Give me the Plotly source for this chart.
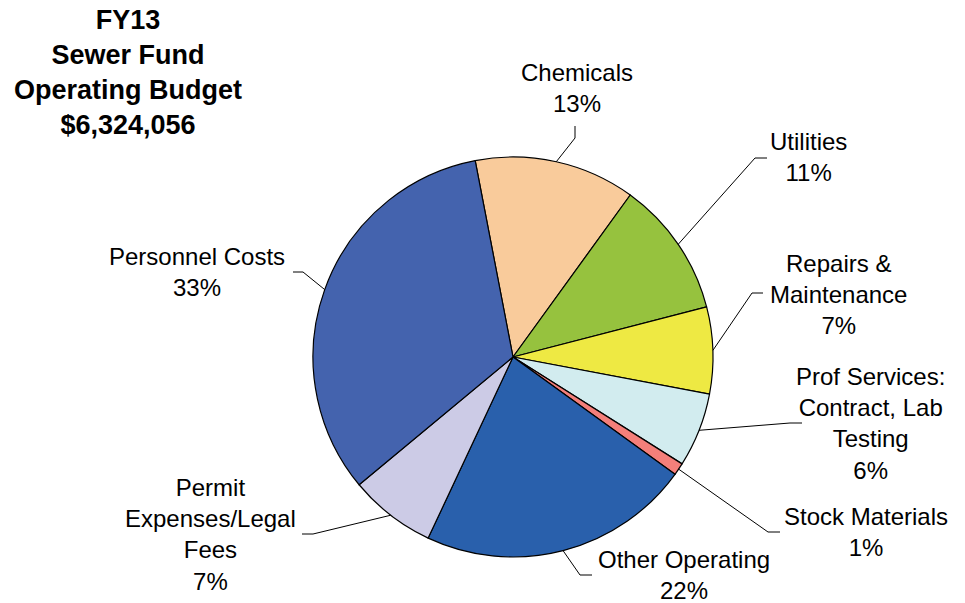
import math
import plotly.graph_objects as go

# FY13 Sewer Fund operating budget shares (percent)
categories = ["Chemicals", "Utilities", "Repairs & Maintenance",
              "Prof Services: Contract, Lab Testing", "Stock Materials",
              "Other Operating", "Permit Expenses/Legal Fees", "Personnel Costs"]
label_lines = ["Chemicals", "Utilities", "Repairs &<br>Maintenance",
               "Prof Services:<br>Contract, Lab<br>Testing", "Stock Materials",
               "Other Operating", "Permit<br>Expenses/Legal<br>Fees", "Personnel Costs"]
shares = [13, 11, 7, 6, 1, 22, 7, 33]
colors = ["#F9CB9B", "#96C23E", "#EEE943", "#D2ECEF", "#F47F7A",
          "#2960AC", "#CCCBE6", "#4463AE"]

W, H = 965, 603
CX, CY, R = 513, 357, 200          # pie centre and radius in pixels
ROTATION = -10.9                   # first slice starts just left of 12 o'clock

# label block centres (px) and leader elbow / end points (px)
label_pos = [(577, 88), (808, 157), (838, 294), (870, 423),
             (866, 532), (684, 575), (210, 534), (197, 272)]
elbows = [(575, 138), (755, 158), (752, 293), (790, 423),
          (768, 532), (580, 575), (313, 534), (303, 272)]
ends = [(575, 126), (767, 158), (763, 293), (802, 423),
        (780, 532), (592, 575), (302, 534), (293, 272)]


def px(x):
    return x / W


def py(y):
    return 1 - y / H


fig = go.Figure(go.Pie(
    labels=categories,
    values=shares,
    sort=False,
    direction="clockwise",
    rotation=ROTATION,
    marker=dict(colors=colors, line=dict(color="#000000", width=1.2)),
    textinfo="none",
    hoverinfo="label+percent",
    showlegend=False,
    domain=dict(x=[px(CX - R), px(CX + R)], y=[py(CY + R), py(CY - R)]),
))

shapes = []
annotations = []
total = sum(shares)
cum = 0.0
for i, v in enumerate(shares):
    mid = ROTATION + (cum + v / 2) / total * 360
    cum += v
    a = math.radians(mid)
    sx, sy = CX + R * math.sin(a), CY - R * math.cos(a)
    ex, ey = elbows[i]
    tx, ty = ends[i]
    shapes.append(dict(type="line", xref="paper", yref="paper",
                       x0=px(sx), y0=py(sy), x1=px(ex), y1=py(ey),
                       line=dict(color="#000000", width=1)))
    shapes.append(dict(type="line", xref="paper", yref="paper",
                       x0=px(ex), y0=py(ey), x1=px(tx), y1=py(ty),
                       line=dict(color="#000000", width=1)))
    lx, ly = label_pos[i]
    annotations.append(dict(
        x=px(lx), y=py(ly), xref="paper", yref="paper",
        xanchor="center", yanchor="middle", align="center", showarrow=False,
        text=f"{label_lines[i]}<br>{v}%",
        font=dict(family="Liberation Sans, Arial, sans-serif", size=24, color="#000000"),
    ))

annotations.append(dict(
    x=px(128), y=py(72), xref="paper", yref="paper",
    xanchor="center", yanchor="middle", align="center", showarrow=False,
    text="<b>FY13<br>Sewer Fund<br>Operating Budget<br>$6,324,056</b>",
    font=dict(family="Liberation Sans, Arial, sans-serif", size=27, color="#000000"),
))

fig.update_layout(
    width=W, height=H,
    margin=dict(l=0, r=0, t=0, b=0),
    paper_bgcolor="#FFFFFF",
    plot_bgcolor="#FFFFFF",
    shapes=shapes,
    annotations=annotations,
)

fig.write_html("out.html")
